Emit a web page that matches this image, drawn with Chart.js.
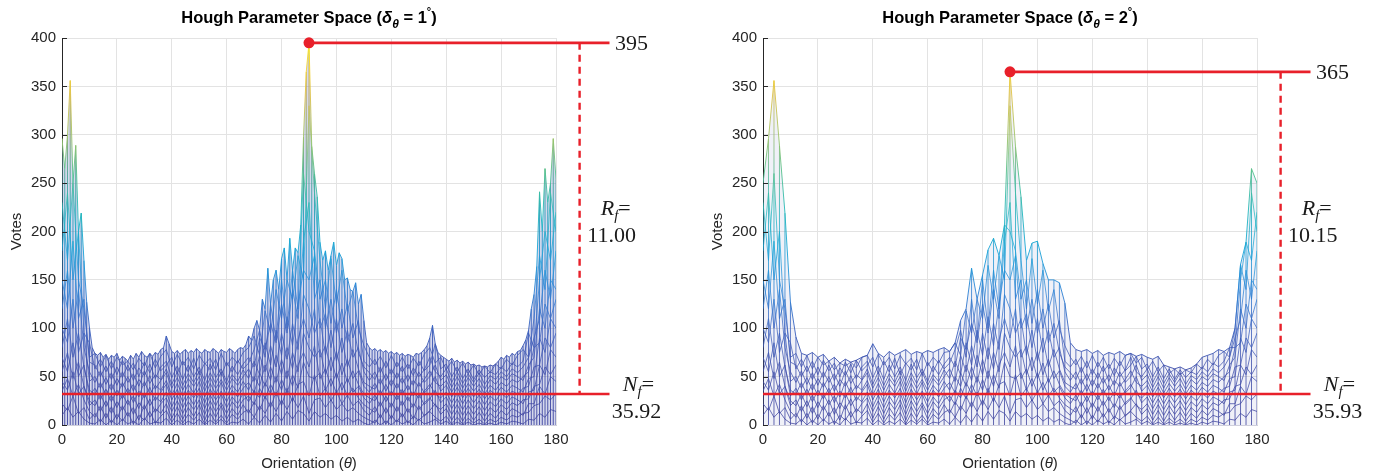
<!DOCTYPE html>
<html>
<head>
<meta charset="utf-8">
<script src="https://cdn.jsdelivr.net/npm/chart.js@4.4.1/dist/chart.umd.min.js"></script>
<style>
  body { margin: 0; background: #fff; }
  #wrap { position: relative; width: 1382px; height: 474px; }
  canvas { position: absolute; top: 0; }
</style>
</head>
<body>
<div id="wrap">
  <canvas id="left" width="691" height="474" style="left:0"></canvas>
  <canvas id="right" width="691" height="474" style="left:691px"></canvas>
</div>
<script>
// highest vote per orientation, delta theta = 1 (theta 0..180)
const votes1 = [
  296, 265, 300, 356, 250, 289, 200, 219, 170, 127,
  101, 80, 74, 72, 75, 70, 73, 68, 72, 70,
  74, 67, 71, 69, 66, 72, 68, 74, 70, 76,
  72, 70, 74, 71, 75, 73, 78, 80, 92, 84,
  76, 74, 77, 73, 76, 78, 74, 77, 75, 79,
  76, 74, 78, 76, 75, 79, 77, 74, 78, 76,
  75, 79, 77, 74, 78, 80, 79, 83, 92, 88,
  100, 108, 98, 130, 120, 162, 125, 150, 160, 140,
  172, 183, 150, 193, 160, 183, 178, 207, 298, 365,
  395, 288, 260, 236, 189, 170, 180, 160, 175, 189,
  165, 178, 172, 150, 152, 140, 138, 147, 125, 135,
  108, 85, 80, 77, 79, 76, 78, 75, 77, 74,
  76, 73, 75, 72, 74, 71, 73, 72, 70, 74,
  73, 75, 78, 82, 90, 103, 84, 75, 72, 70,
  68, 66, 69, 65, 67, 64, 66, 63, 65, 62,
  63, 61, 62, 60, 61, 60, 62, 61, 63, 66,
  70, 68, 72, 70, 74, 72, 76, 77, 82, 88,
  98, 120, 135, 164, 241, 200, 265, 230, 250, 296, 254
];

// highest vote per orientation, delta theta = 2 (theta 0,2,..,180)
const votes2 = [
  250, 296, 356, 289, 219, 127, 91, 74, 72, 75,
  70, 73, 66, 70, 64, 68, 65, 67, 70, 72,
  84, 74, 70, 76, 72, 75, 78, 73, 76, 74,
  77, 75, 78, 80, 76, 85, 108, 120, 162, 130,
  155, 181, 193, 175, 207, 365, 288, 236, 170, 188,
  190, 167, 150, 150, 147, 126, 85, 78, 76, 78,
  74, 77, 72, 75, 73, 76, 72, 74, 71, 73,
  70, 68, 71, 62, 60, 58, 60, 57, 59, 63,
  70, 72, 74, 78, 76, 80, 100, 166, 189, 265,
  250
];

// lower rho rows of the accumulator (theta 0,2,..,180)
// each row: theta 0-12 | 14-66 | 68-112 | 114-166 | 168-180
const rowA = [
  230, 170, 260, 150, 120, 70, 74,
  60, 72, 58, 70, 62, 73, 57, 69, 61, 74, 59, 71, 78, 60, 73, 62, 70, 58, 72, 63, 69, 57, 74, 61, 70, 64, 75,
  80, 92, 72, 118, 95, 140, 110, 165, 130, 175, 150, 330, 240, 170, 120, 172, 125, 160, 118, 140, 100, 82, 70,
  62, 71, 59, 72, 60, 70, 58, 69, 61, 73, 80, 64, 70, 57, 66, 55, 64, 53, 62, 52, 61, 54, 63, 58, 68, 62, 72,
  78, 70, 110, 175, 140, 240, 200
];
const rowB = [
  180, 240, 150, 200, 95, 85, 58,
  68, 55, 66, 52, 67, 56, 64, 50, 65, 54, 68, 56, 62, 70, 53, 66, 55, 69, 52, 64, 57, 68, 51, 65, 55, 67, 58,
  64, 78, 98, 70, 130, 88, 150, 100, 160, 120, 260, 200, 180, 130, 150, 105, 140, 100, 125, 90, 108, 66, 60,
  68, 54, 66, 52, 65, 55, 63, 51, 66, 56, 62, 88, 58, 63, 50, 60, 48, 58, 47, 57, 49, 55, 52, 60, 55, 64, 60,
  66, 95, 80, 150, 200, 170, 220
];
const rowC = [
  150, 120, 190, 110, 130, 65, 62,
  50, 61, 47, 60, 49, 62, 46, 59, 51, 63, 48, 60, 66, 49, 61, 47, 62, 50, 60, 46, 63, 49, 58, 45, 61, 52, 63,
  70, 60, 90, 78, 105, 85, 125, 95, 140, 110, 190, 230, 130, 150, 100, 130, 95, 120, 85, 105, 75, 60, 54,
  47, 60, 46, 58, 48, 61, 45, 59, 50, 57, 70, 55, 50, 58, 44, 55, 43, 53, 44, 54, 42, 51, 47, 55, 50, 58, 54,
  60, 70, 90, 110, 160, 130, 180
];
const rowD = [
  120, 160, 100, 140, 80, 55, 44,
  56, 42, 54, 41, 55, 44, 53, 40, 56, 43, 52, 47, 58, 42, 55, 41, 53, 44, 56, 40, 54, 43, 55, 41, 52, 45, 57,
  48, 66, 52, 85, 62, 98, 72, 112, 82, 125, 160, 150, 175, 100, 115, 80, 110, 75, 98, 70, 80, 55, 46,
  55, 42, 53, 40, 54, 43, 52, 41, 55, 44, 50, 62, 46, 52, 39, 50, 38, 49, 40, 48, 37, 47, 42, 50, 46, 53, 50,
  46, 62, 70, 120, 100, 150, 140
];
const rowE = [
  100, 85, 130, 75, 95, 45, 50,
  38, 49, 36, 48, 39, 50, 35, 47, 40, 51, 37, 46, 54, 38, 49, 36, 48, 40, 50, 35, 49, 38, 47, 36, 48, 41, 50,
  58, 45, 72, 55, 82, 60, 95, 68, 105, 78, 135, 120, 95, 110, 72, 98, 66, 90, 60, 78, 58, 44, 40,
  37, 48, 35, 47, 38, 49, 36, 46, 40, 47, 56, 44, 40, 46, 34, 44, 33, 43, 35, 42, 32, 41, 36, 44, 40, 47, 44,
  50, 55, 80, 85, 125, 110, 130
];
const rowF = [
  80, 110, 70, 95, 60, 36, 32,
  44, 31, 43, 30, 44, 33, 42, 29, 45, 32, 41, 36, 46, 31, 43, 30, 42, 33, 45, 29, 43, 32, 44, 30, 41, 34, 45,
  36, 50, 40, 62, 46, 72, 52, 80, 58, 88, 110, 90, 120, 70, 82, 56, 76, 52, 68, 48, 56, 40, 34,
  43, 31, 42, 30, 43, 32, 41, 30, 44, 33, 39, 50, 35, 41, 29, 39, 28, 38, 29, 37, 27, 36, 31, 39, 34, 41, 38,
  34, 48, 50, 90, 75, 110, 100
];
const rowG = [
  70, 55, 85, 50, 62, 30, 38,
  26, 37, 24, 36, 27, 38, 23, 35, 28, 39, 25, 34, 42, 26, 37, 24, 36, 28, 38, 23, 37, 26, 35, 24, 36, 29, 38,
  44, 33, 54, 40, 60, 44, 68, 48, 75, 55, 95, 80, 70, 78, 52, 70, 48, 64, 44, 56, 42, 32, 28,
  25, 36, 24, 35, 26, 37, 25, 34, 28, 35, 42, 32, 28, 34, 23, 33, 22, 32, 23, 31, 21, 30, 25, 33, 28, 35, 32,
  38, 40, 60, 62, 90, 80, 95
];
const rowH = [
  55, 75, 48, 65, 40, 25, 20,
  32, 19, 31, 18, 32, 21, 30, 17, 33, 20, 29, 24, 34, 19, 31, 18, 30, 21, 33, 17, 31, 20, 32, 18, 29, 22, 33,
  24, 36, 28, 44, 32, 50, 36, 56, 40, 62, 75, 60, 82, 48, 58, 40, 54, 36, 48, 34, 40, 28, 22,
  31, 19, 30, 18, 31, 20, 29, 18, 32, 21, 27, 36, 23, 29, 17, 27, 16, 26, 17, 25, 15, 24, 19, 27, 22, 29, 26,
  22, 34, 36, 62, 52, 78, 70
];
const rowI = [
  45, 36, 55, 32, 40, 20, 26,
  14, 25, 12, 24, 15, 26, 11, 23, 16, 27, 13, 22, 28, 14, 25, 12, 24, 16, 26, 11, 25, 14, 23, 12, 24, 17, 26,
  30, 21, 38, 27, 42, 30, 47, 33, 52, 38, 65, 50, 48, 54, 36, 48, 33, 44, 30, 38, 28, 21, 17,
  13, 24, 12, 23, 14, 25, 13, 22, 16, 23, 28, 20, 16, 22, 11, 21, 10, 20, 11, 19, 9, 18, 13, 21, 16, 23, 20,
  26, 27, 40, 42, 60, 52, 62
];
const rowJ = [
  35, 48, 30, 42, 26, 14, 8,
  20, 7, 19, 6, 20, 9, 18, 5, 21, 8, 17, 12, 22, 7, 19, 6, 18, 9, 21, 5, 19, 8, 20, 6, 17, 10, 21,
  12, 24, 15, 30, 18, 34, 20, 38, 24, 42, 45, 30, 52, 30, 38, 25, 35, 22, 31, 20, 25, 15, 10,
  19, 7, 18, 6, 19, 8, 17, 6, 20, 9, 15, 22, 11, 17, 5, 15, 4, 14, 5, 13, 4, 12, 7, 15, 10, 17, 14,
  10, 22, 22, 40, 32, 50, 45
];
const rowK = [
  22, 15, 30, 12, 18, 6, 12,
  3, 12, 2, 11, 4, 13, 1, 10, 5, 14, 2, 9, 15, 3, 12, 2, 11, 5, 13, 1, 12, 3, 10, 2, 11, 6, 13,
  16, 8, 20, 12, 24, 14, 26, 16, 28, 18, 30, 12, 26, 28, 18, 26, 16, 22, 14, 18, 12, 8, 5,
  2, 11, 1, 10, 3, 12, 2, 9, 5, 10, 14, 8, 4, 9, 1, 8, 1, 7, 2, 6, 1, 6, 3, 8, 5, 10, 8,
  12, 13, 20, 22, 30, 26, 32
];
const rowL = [
  10, 18, 8, 14, 6, 2, 1,
  6, 0, 5, 0, 6, 1, 4, 0, 7, 1, 3, 2, 7, 0, 5, 0, 4, 1, 6, 0, 5, 1, 6, 0, 3, 2, 6,
  1, 8, 2, 10, 3, 12, 4, 14, 6, 15, 12, 4, 14, 8, 12, 6, 10, 4, 8, 3, 6, 2, 0,
  5, 0, 4, 0, 5, 1, 4, 0, 6, 1, 3, 6, 1, 4, 0, 3, 0, 3, 0, 2, 0, 2, 0, 3, 1, 4, 3,
  1, 6, 5, 12, 8, 16, 14
];
const rows = [rowA, rowB, rowC, rowD, rowE, rowF, rowG, rowH, rowI, rowJ, rowK, rowL];

const steps = [1, 2];
const peakTheta = [90, 90];
const peakVotes = [395, 365];
const floorLine = [32, 32];          // where the N_f line sits in the figure
const nfText = ["35.92", "35.93"];
const rfText = ["11.00", "10.15"];

const RED = "#e8202a";
const SANS = "'Liberation Sans', Arial, Helvetica, sans-serif";
const SERIF = "'Liberation Serif', 'Times New Roman', serif";

function meshGradient(chart) {
  const area = chart.chartArea;
  if (!area) return "#3f4fa6";
  const y = chart.scales.y;
  const g = chart.ctx.createLinearGradient(0, y.getPixelForValue(0), 0, y.getPixelForValue(400));
  g.addColorStop(0.0, "#3b3f9c");
  g.addColorStop(0.15, "#3e4fab");
  g.addColorStop(0.25, "#3a62c0");
  g.addColorStop(0.35, "#2a84d6");
  g.addColorStop(0.45, "#18a4d8");
  g.addColorStop(0.55, "#22b8bc");
  g.addColorStop(0.65, "#52c08e");
  g.addColorStop(0.75, "#a2c466");
  g.addColorStop(0.85, "#dec248");
  g.addColorStop(0.93, "#f7d52c");
  g.addColorStop(1.0, "#f9f00e");
  return g;
}

function meshSets(env, step) {
  const sets = [];
  rows.forEach(r => {
    sets.push({
      data: r.map((v, i) => ({ x: i * 2, y: Math.min(v, env[i * 2 / step]) })),
      borderWidth: 0.75
    });
  });
  sets.push({
    data: env.map((v, i) => ({ x: i * step, y: v })),
    borderWidth: 0.9,
    fill: "origin",
    backgroundColor: step === 1 ? "rgba(66, 76, 168, 0.22)" : "rgba(66, 76, 168, 0.08)"
  });
  const cols = [];
  env.forEach((v, i) => {
    cols.push({ x: i * step, y: 0 }, { x: i * step, y: v }, { x: i * step, y: null });
  });
  sets.push({ data: cols, borderWidth: step === 1 ? 0.9 : 0.8 });
  sets.forEach(s => {
    s.showLine = true;
    s.pointRadius = 0;
    s.borderColor = ctx => meshGradient(ctx.chart);
    s.spanGaps = false;
  });
  return sets;
}

function drawParts(ctx, parts, cx, base) {
  let w = 0;
  parts.forEach(p => { ctx.font = p.font; w += ctx.measureText(p.t).width; });
  let x = cx - w / 2;
  ctx.textAlign = "left";
  ctx.textBaseline = "alphabetic";
  parts.forEach(p => {
    ctx.font = p.font;
    ctx.fillText(p.t, x, base + (p.dy || 0));
    x += ctx.measureText(p.t).width;
  });
}

const decorPlugin = {
  id: "decor",
  afterDraw(chart) {
    const o = chart.options.plugins.decor;
    const { ctx, chartArea: a, scales: { x, y } } = chart;
    ctx.save();
    ctx.fillStyle = "#000";
    // title
    drawParts(ctx, [
      { t: "Hough Parameter Space (", font: "bold 16.5px " + SANS },
      { t: "\u03b4", font: "italic bold 16.5px " + SANS },
      { t: "\u03b8", font: "italic bold 12px " + SANS, dy: 5 },
      { t: " = " + o.step, font: "bold 16.5px " + SANS },
      { t: "\u00b0", font: "bold 11px " + SANS, dy: -8 },
      { t: ")", font: "bold 16.5px " + SANS }
    ], (a.left + a.right) / 2, 23);
    // axis titles
    ctx.fillStyle = "#262626";
    drawParts(ctx, [
      { t: "Orientation (", font: "15px " + SANS },
      { t: "\u03b8", font: "italic 15px " + SANS },
      { t: ")", font: "15px " + SANS }
    ], (a.left + a.right) / 2, 468);
    ctx.save();
    ctx.translate(a.left - 41, (a.top + a.bottom) / 2);
    ctx.rotate(-Math.PI / 2);
    drawParts(ctx, [{ t: "Votes", font: "15px " + SANS }], 0, 0);
    ctx.restore();
    // inward ticks on the y axis
    ctx.strokeStyle = "#262626";
    ctx.lineWidth = 1;
    y.ticks.forEach(t => {
      const py = Math.round(y.getPixelForValue(t.value)) + 0.5;
      ctx.beginPath();
      ctx.moveTo(a.left, py);
      ctx.lineTo(a.left + 5, py);
      ctx.stroke();
    });
    // serif labels
    ctx.fillStyle = "#1a1a1a";
    ctx.font = "22px " + SERIF;
    ctx.textAlign = "left";
    ctx.textBaseline = "middle";
    ctx.fillText(String(o.peak), x.getPixelForValue(201.5), y.getPixelForValue(o.peak) + 1);
    const rc = x.getPixelForValue(200.3);
    const ry = y.getPixelForValue(212);
    drawParts(ctx, [
      { t: "R", font: "italic 22px " + SERIF },
      { t: "f", font: "italic 15px " + SERIF, dy: 5 },
      { t: "=", font: "22px " + SERIF }
    ], rc + 4, ry - 5);
    drawParts(ctx, [{ t: o.rf, font: "22px " + SERIF }], rc, ry + 22);
    const nc = x.getPixelForValue(209.3);
    const ny = y.getPixelForValue(o.floor);
    drawParts(ctx, [
      { t: "N", font: "italic 22px " + SERIF },
      { t: "f", font: "italic 15px " + SERIF, dy: 5 },
      { t: "=", font: "22px " + SERIF }
    ], nc + 2, ny - 3);
    drawParts(ctx, [{ t: o.nf, font: "22px " + SERIF }], nc, ny + 24);
    ctx.restore();
  }
};

function makeChart(id, k, env, padRight, leftW) {
  const peak = peakVotes[k];
  const fl = floorLine[k];
  const red = [
    { data: [{ x: peakTheta[k], y: peak }, { x: 199.5, y: peak }], borderColor: RED, borderWidth: 2.6,
      pointRadius: [5.5, 0], pointBackgroundColor: RED, pointBorderWidth: 0, clip: false },
    { data: [{ x: 0, y: fl }, { x: 199.5, y: fl }], borderColor: RED, borderWidth: 2.6, pointRadius: 0, clip: false },
    { data: [{ x: 188.6, y: peak }, { x: 188.6, y: fl }], borderColor: RED, borderWidth: 2.4,
      borderDash: [7, 5], pointRadius: 0, clip: false }
  ];
  red.forEach(s => { s.showLine = true; });
  const tickFont = { family: SANS, size: 15 };
  return new Chart(document.getElementById(id), {
    type: "scatter",
    data: { datasets: red.concat(meshSets(env, steps[k])) },
    options: {
      responsive: false,
      animation: false,
      devicePixelRatio: 1,
      layout: { padding: { top: 38, right: padRight, left: 0, bottom: 0 } },
      elements: { line: { tension: 0 } },
      plugins: {
        legend: { display: false },
        tooltip: { enabled: false },
        filler: { propagate: false },
        decor: { step: steps[k], peak: peak, floor: fl, nf: nfText[k], rf: rfText[k] }
      },
      scales: {
        x: {
          type: "linear", min: 0, max: 180,
          ticks: { stepSize: 20, color: "#262626", font: tickFont, padding: 6, maxRotation: 0 },
          grid: { color: "#e3e3e3", drawTicks: false },
          border: { color: "#cfcfdc" },
          afterFit: s => { s.height = 49; }
        },
        y: {
          min: 0, max: 400,
          ticks: { stepSize: 50, color: "#262626", font: tickFont, padding: 6 },
          grid: { color: "#e3e3e3", drawTicks: false },
          border: { color: "#262626" },
          afterFit: s => { s.width = leftW; }
        }
      }
    },
    plugins: [decorPlugin]
  });
}

makeChart("left", 0, votes1, 135, 62);
makeChart("right", 1, votes2, 125, 72);
</script>
</body>
</html>
